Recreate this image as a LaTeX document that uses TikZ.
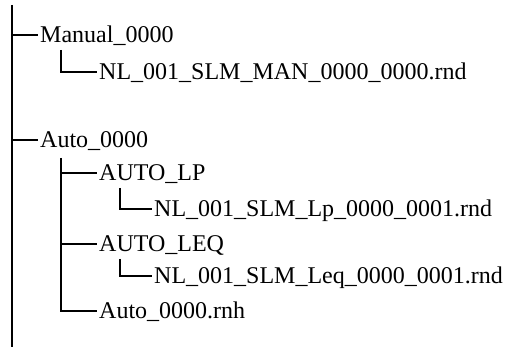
\documentclass[tikz,border=0pt]{standalone}
\usepackage{fontspec}
\setmainfont{Liberation Serif}
\usetikzlibrary{positioning}

\begin{document}
\begin{tikzpicture}[
  x=1pt, y=1pt,
  item/.style={anchor=west,inner xsep=2pt,inner ysep=0pt,text height=21.6pt,text depth=5.8pt,
    font=\fontsize{24}{28}\selectfont},
  trunk/.style={line width=1.8pt},
  branch/.style={line width=1.3pt}]
\useasboundingbox (0,0) rectangle (508,347);
% trunk of the tree
\coordinate (top) at (12,342);
\coordinate (bottom) at (12,0);
\node[item] (manual) at (38,312) {Manual\_0000};
\node[item] (nlman) at (97,275) {NL\_001\_SLM\_MAN\_0000\_0000.rnd};
\node[item] (auto) at (38,207) {Auto\_0000};
\node[item] (autolp) at (97,174) {AUTO\_LP};
\node[item] (nllp) at (152,138) {NL\_001\_SLM\_Lp\_0000\_0001.rnd};
\node[item] (autoleq) at (97,103) {AUTO\_LEQ};
\node[item] (nlleq) at (152,71) {NL\_001\_SLM\_Leq\_0000\_0001.rnd};
\node[item] (rnh) at (97,36) {Auto\_0000.rnh};
\draw[trunk] (top) -- (bottom);
\draw[branch] (manual.west -| top) -- (manual.west);
\draw[branch] (auto.west -| top) -- (auto.west);
% sub branches
\coordinate[xshift=23pt,yshift=-1pt] (mansub) at (manual.south west);
\coordinate[xshift=23pt,yshift=-4pt] (autosub) at (auto.south west);
\coordinate[xshift=23pt,yshift=-1pt] (lpsub) at (autolp.south west);
\coordinate[xshift=23pt,yshift=-1pt] (leqsub) at (autoleq.south west);
\draw[branch] (mansub) |- (nlman.west);
\draw[branch] (autosub) |- (rnh.west);
\draw[branch] (autolp.west -| autosub) -- (autolp.west);
\draw[branch] (autoleq.west -| autosub) -- (autoleq.west);
\draw[branch] (lpsub) |- (nllp.west);
\draw[branch] (leqsub) |- (nlleq.west);
\end{tikzpicture}
\end{document}
